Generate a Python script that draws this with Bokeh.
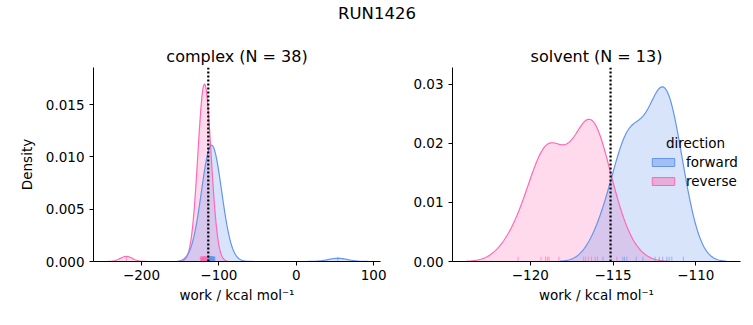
import numpy as np
from bokeh.plotting import figure
from bokeh.layouts import column, row
from bokeh.models import Span, Legend, LegendItem, Label, Range1d, FixedTicker
from bokeh.embed import file_html
from bokeh.resources import INLINE

# ---------------- data ----------------
suptitle = "RUN1426"
phases = ["complex", "solvent"]
directions = ["forward", "reverse"]

fwd_complex = [53.7, -113.6, -113.0, -112.6, -112.3, -112.0, -111.7, -111.5, -111.2, -111.0,
               -110.8, -110.6, -110.4, -110.2, -110.0, -109.8, -109.6, -109.4, -109.2, -109.0,
               -108.8, -108.6, -108.4, -108.2, -108.0, -107.8, -107.6, -107.3, -107.0, -106.7,
               -106.4, -106.0, -105.6, -105.2, -109.5, -110.1, -108.9, -111.4]
rev_complex = [-219.5, -124.1, -123.4, -122.9, -122.5, -122.1, -121.8, -121.5, -121.2, -120.9,
               -120.6, -120.4, -120.1, -119.9, -119.6, -119.4, -119.2, -119.0, -118.8, -118.6,
               -118.3, -118.1, -117.9, -117.7, -117.4, -117.2, -116.9, -116.6, -116.3, -116.0,
               -115.7, -115.3, -114.9, -114.5, -114.0, -113.5, -112.9, -118.9]
fwd_solvent = [-115.61, -114.41, -114.31, -114.17, -113.60, -113.20, -112.46, -112.20, -112.00,
               -111.75, -111.61, -111.45, -110.75]
rev_solvent = [-120.74, -119.35, -119.08, -118.97, -118.87, -118.27, -116.78, -116.66, -116.48,
               -116.30, -116.08, -115.94, -114.77]

dg_estimate = [-113.7, -115.15]          # dotted vertical lines (complex, solvent)

complex_xticks = [-200, -100, 0, 100]
complex_yticks = [0.0, 0.005, 0.010, 0.015]
solvent_xticks = [-120, -115, -110]
solvent_yticks = [0.0, 0.01, 0.02, 0.03]
complex_xlim = [-262.0, 108.8]
solvent_xlim = [-124.7, -107.3]
complex_ylim = [0.0, 0.01856]
solvent_ylim = [0.0, 0.0328]

colors = {"forward": "#6495ED", "reverse": "#FF69B4"}
FONT = "DejaVu Sans"

all_works = [fwd_complex, rev_complex, fwd_solvent, rev_solvent]
n_total = sum(len(w) for w in all_works)


def kde(values):
    v = np.asarray(values, float)
    n = len(v)
    bw = v.std(ddof=1) * n ** (-0.2)
    grid = np.linspace(v.min() - 3 * bw, v.max() + 3 * bw, 200)
    dens = np.exp(-0.5 * ((grid[:, None] - v[None, :]) / bw) ** 2).sum(1) / (n * bw * np.sqrt(2 * np.pi))
    return grid, dens * n / n_total


def fmt_minus(t, nd=None):
    s = f"{t:g}" if nd is None else f"{t:.{nd}f}"
    return s.replace("-", "\u2212")


def panel(name, fwd, rev, dg, xlim, ylim, xticks, yticks, ydec, width, mbl, mbr, ylabel):
    p = figure(width=width, height=287, output_backend="svg", toolbar_location=None,
               x_range=Range1d(*xlim), y_range=Range1d(*ylim),
               min_border_left=mbl, min_border_right=mbr, min_border_top=29, min_border_bottom=64)
    p.title.text = f"{name} (N = {len(fwd)})"
    p.title.align = "center"
    p.title.text_font = FONT
    p.title.text_font_size = "16px"
    p.title.text_font_style = "normal"
    p.title.text_color = "black"
    p.title.standoff = 4
    p.outline_line_color = None
    p.grid.visible = False

    for d, w in (("reverse", rev), ("forward", fwd)):
        g, dens = kde(w)
        p.varea(x=g, y1=np.zeros_like(dens), y2=dens, fill_color=colors[d], fill_alpha=0.25)
    for d, w in (("reverse", rev), ("forward", fwd)):
        g, dens = kde(w)
        p.line(g, dens, line_color=colors[d], line_width=1.2)
        rug_h = 0.025 * (ylim[1] - ylim[0])
        p.segment(x0=w, y0=[0] * len(w), x1=w, y1=[rug_h] * len(w),
                  line_color=colors[d], line_width=1, line_alpha=0.6)

    p.add_layout(Span(location=dg, dimension="height", line_color="black",
                      line_dash="2 2", line_width=2.2))

    for ax in (p.xaxis[0], p.yaxis[0]):
        ax.axis_line_color = "black"
        ax.major_tick_line_color = "black"
        ax.major_tick_out = 4
        ax.major_tick_in = 0
        ax.minor_tick_line_color = None
        ax.major_label_text_font = FONT
        ax.major_label_text_font_size = "13.5px"
        ax.axis_label_text_font = FONT
        ax.axis_label_text_font_size = "13.5px"
        ax.axis_label_text_font_style = "normal"
        ax.axis_label_text_color = "black"
        ax.major_label_text_color = "black"
    p.xaxis.ticker = FixedTicker(ticks=xticks)
    p.xaxis.major_label_overrides = {t: fmt_minus(t) for t in xticks}
    p.yaxis.ticker = FixedTicker(ticks=yticks)
    p.yaxis.major_label_overrides = {t: fmt_minus(t, ydec) for t in yticks}
    p.xaxis.axis_label = "work / kcal mol\u207b\u00b9"
    p.xaxis.axis_label_standoff = 4
    p.xaxis.major_label_standoff = 4
    if ylabel:
        p.yaxis.axis_label = ylabel
        p.yaxis.axis_label_standoff = 8
    return p


p1 = panel("complex", fwd_complex, rev_complex, dg_estimate[0], complex_xlim, complex_ylim,
           complex_xticks, complex_yticks, 3, 386, 93, 6, "Density")
p2 = panel("solvent", fwd_solvent, rev_solvent, dg_estimate[1], solvent_xlim, solvent_ylim,
           solvent_xticks, solvent_yticks, 2, 367, 66, 13, None)

# legend (dummy patches placed outside the visible x range, only used as legend glyphs)
items = []
off = solvent_xlim[1] + 10
for d in directions:
    r = p2.quad(left=[off], right=[off + 1], top=[1], bottom=[0], fill_color=colors[d],
                fill_alpha=0.45, line_color=colors[d], line_width=1)
    items.append(LegendItem(label=d, renderers=[r]))
leg = Legend(items=items, location=(197, 72), border_line_color=None, background_fill_alpha=0,
             label_text_font=FONT, label_text_font_size="13.5px", label_text_color="black",
             glyph_width=28, glyph_height=10,
             padding=0, margin=0, spacing=3, label_standoff=9, label_height=15)
p2.add_layout(leg, "center")
p2.add_layout(Label(x=243, y=119, x_units="screen", y_units="screen", text="direction",
                    text_align="center", text_baseline="middle", text_font=FONT,
                    text_font_size="13.5px", text_color="black"))

# header
h = figure(width=753, height=38, output_backend="svg", toolbar_location=None,
           x_range=Range1d(0, 1), y_range=Range1d(0, 1), min_border=0)
h.axis.visible = False
h.grid.visible = False
h.outline_line_color = None
h.add_layout(Label(x=0.5, y=0.66, text=suptitle, text_align="center", text_baseline="middle",
                   text_font=FONT, text_font_size="16.5px", text_color="black"))

layout = column(h, row(p1, p2, spacing=0), spacing=0)
open("out.html", "w").write(file_html(layout, INLINE))
